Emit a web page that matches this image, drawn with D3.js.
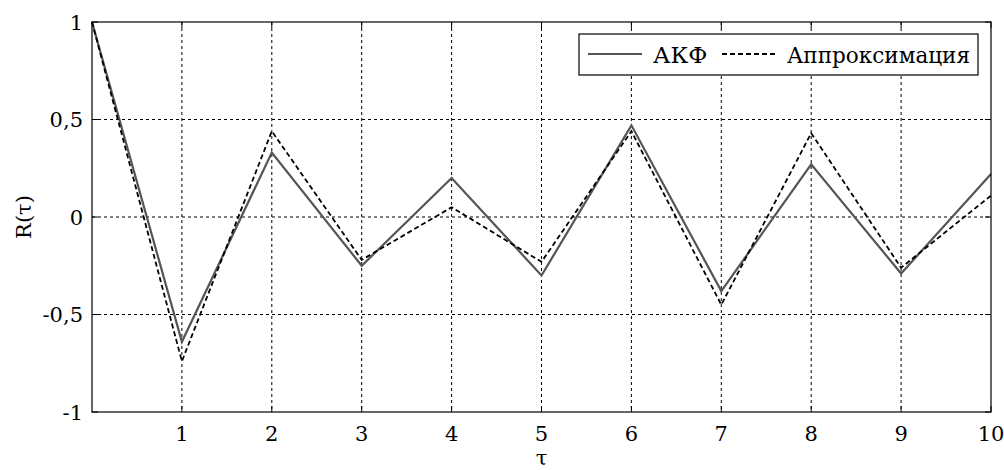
<!DOCTYPE html>
<html><head><meta charset="utf-8">
<script src="https://cdn.jsdelivr.net/npm/d3@7"></script>
<style>body{margin:0;background:#fff}svg{display:block}</style>
</head><body>
<svg id="c" width="1004" height="470"></svg>
<script>
const tau = [0,1,2,3,4,5,6,7,8,9,10];
const akf = [1,-0.64,0.33,-0.25,0.20,-0.30,0.47,-0.38,0.27,-0.29,0.22];
const approx = [1,-0.74,0.44,-0.22,0.05,-0.23,0.44,-0.45,0.43,-0.26,0.11];
const xTicks = [1,2,3,4,5,6,7,8,9,10];
const yTicks = [-1,-0.5,0,0.5,1];
const yTickLabels = ["-1","-0,5","0","0,5","1"];
const legendLabels = ["АКФ","Аппроксимация"];

const FF = "'DejaVu Serif', 'Liberation Serif', serif";
const svg = d3.select("#c");
const L=92,R=991,T=22,B=412;
const x = d3.scaleLinear().domain([0,10]).range([L,R]);
const y = d3.scaleLinear().domain([-1,1]).range([B,T]);

// grid
const g = svg.append("g");
g.selectAll(".gx").data(xTicks.filter(d=>d<10)).enter().append("line")
 .attr("x1",d=>x(d)).attr("x2",d=>x(d)).attr("y1",T).attr("y2",B)
 .attr("stroke","#000").attr("stroke-width",1).attr("stroke-dasharray","3,3");
g.selectAll(".gy").data(yTicks.filter(d=>d>-1&&d<1)).enter().append("line")
 .attr("y1",d=>y(d)).attr("y2",d=>y(d)).attr("x1",L).attr("x2",R)
 .attr("stroke","#000").attr("stroke-width",1).attr("stroke-dasharray","3,3");

// ticks inside
const tk=6;
xTicks.forEach(d=>{
  svg.append("line").attr("x1",x(d)).attr("x2",x(d)).attr("y1",B).attr("y2",B-tk).attr("stroke","#000");
  svg.append("line").attr("x1",x(d)).attr("x2",x(d)).attr("y1",T).attr("y2",T+tk).attr("stroke","#000");
});
yTicks.forEach(d=>{
  svg.append("line").attr("x1",L).attr("x2",L+tk).attr("y1",y(d)).attr("y2",y(d)).attr("stroke","#000");
  svg.append("line").attr("x1",R).attr("x2",R-tk).attr("y1",y(d)).attr("y2",y(d)).attr("stroke","#000");
});

// lines
const line = d3.line().x((d,i)=>x(tau[i])).y(d=>y(d));
svg.append("path").datum(akf).attr("d",line).attr("fill","none")
 .attr("stroke","#555").attr("stroke-width",2.2);
svg.append("path").datum(approx).attr("d",line).attr("fill","none")
 .attr("stroke","#000").attr("stroke-width",1.8).attr("stroke-dasharray","5,3");

// frame
svg.append("rect").attr("x",L).attr("y",T).attr("width",R-L).attr("height",B-T)
 .attr("fill","none").attr("stroke","#000").attr("stroke-width",1.2);

// tick labels
svg.selectAll(".xl").data(xTicks).enter().append("text")
 .attr("x",d=>x(d)).attr("y",441).attr("text-anchor","middle")
 .attr("font-family",FF).attr("font-size",21).text(d=>d);
svg.selectAll(".yl").data(yTicks).enter().append("text")
 .attr("x",83).attr("y",d=>y(d)+7.5).attr("text-anchor","end")
 .attr("font-family",FF).attr("font-size",21).text((d,i)=>yTickLabels[i]);

// axis labels
svg.append("text").attr("x",x(5)).attr("y",465).attr("text-anchor","middle").attr("font-family",FF).attr("font-size",21).text("τ");
svg.append("text").attr("transform",`translate(31,${y(0)}) rotate(-90)`).attr("text-anchor","middle").attr("font-family",FF).attr("font-size",21).text("R(τ)");

// legend
const lg = svg.append("g");
lg.append("rect").attr("x",579).attr("y",34).attr("width",399).attr("height",41)
 .attr("fill","#fff").attr("stroke","#000").attr("stroke-width",1.2);
lg.append("line").attr("x1",588).attr("x2",642).attr("y1",54).attr("y2",54).attr("stroke","#555").attr("stroke-width",2.2);
lg.append("text").attr("x",653).attr("y",63).attr("font-family",FF).attr("font-size",23).text(legendLabels[0]);
lg.append("line").attr("x1",722).attr("x2",776).attr("y1",54).attr("y2",54).attr("stroke","#000").attr("stroke-width",1.8).attr("stroke-dasharray","5,3");
lg.append("text").attr("x",787).attr("y",63).attr("font-family",FF).attr("font-size",23).attr("textLength",183).attr("lengthAdjust","spacingAndGlyphs").text(legendLabels[1]);
</script>
</body></html>
